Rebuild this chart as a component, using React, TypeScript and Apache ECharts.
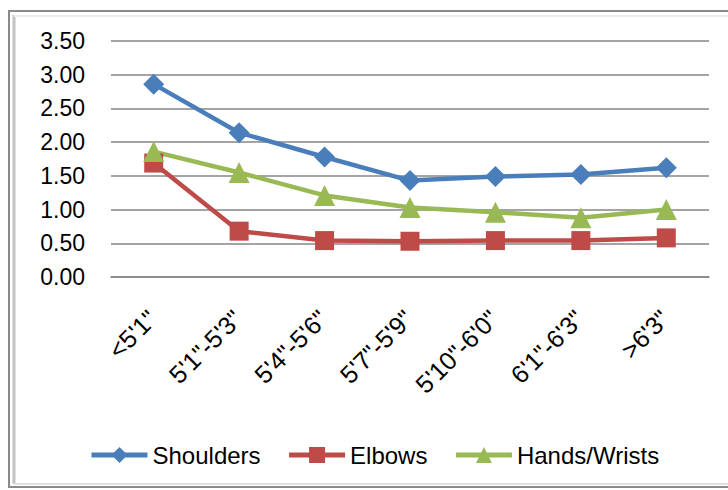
import React, { useEffect, useRef } from "react";
import * as echarts from "echarts";

const categories = ["<5'1\"", "5'1\"-5'3\"", "5'4\"-5'6\"", "5'7\"-5'9\"", "5'10\"-6'0\"", "6'1\"-6'3\"", ">6'3\""];
const shoulders = [2.86, 2.14, 1.78, 1.43, 1.49, 1.52, 1.62];
const elbows = [1.69, 0.68, 0.54, 0.53, 0.54, 0.54, 0.58];
const handsWrists = [1.86, 1.55, 1.21, 1.03, 0.96, 0.88, 1.0];
const seriesNames = ["Shoulders", "Elbows", "Hands/Wrists"];

const FONT = "'Liberation Sans', Arial, sans-serif";

export default function App() {
  const ref = useRef<HTMLDivElement>(null);
  useEffect(() => {
    if (!ref.current) return;
    const chart = echarts.init(ref.current, null, { renderer: "svg" });
    const colors = ["#4A7EBB", "#BE4B48", "#98B954"];
    const mk = (name: string, data: number[], symbol: string, size: number, color: string) => ({
      name,
      type: "line",
      data,
      symbol,
      symbolSize: size,
      showAllSymbol: true,
      lineStyle: { color, width: 4.5 },
      itemStyle: { color },
      emphasis: { disabled: true },
    });
    chart.setOption({
      animation: false,
      backgroundColor: "#ffffff",
      textStyle: { fontFamily: FONT },
      graphic: [
        { type: "rect", shape: { x: 9, y: 11, width: 740, height: 476 }, style: { fill: "none", stroke: "#8a8a8a", lineWidth: 2 }, silent: true },
        { type: "line", shape: { x1: 14, y1: 15, x2: 14, y2: 484 }, style: { stroke: "#c4c4c4", lineWidth: 3 }, silent: true },
        { type: "line", shape: { x1: 14, y1: 16, x2: 728, y2: 16 }, style: { stroke: "#ececec", lineWidth: 2 }, silent: true },
        { type: "line", shape: { x1: 14, y1: 484, x2: 728, y2: 484 }, style: { stroke: "#e0e0e0", lineWidth: 2 }, silent: true },
      ],
      grid: { left: 111, right: 19, top: 41, bottom: 213, containLabel: false },
      legend: {
        left: 84,
        top: 438,
        itemWidth: 56,
        itemHeight: 20,
        itemGap: 26,
        data: seriesNames,
        lineStyle: { width: 5 },
        textStyle: { fontSize: 24, color: "#000", fontFamily: FONT },
      },
      xAxis: {
        type: "category",
        data: categories,
        boundaryGap: true,
        axisLine: { lineStyle: { color: "#868686", width: 1.5 } },
        axisTick: { show: false },
        axisLabel: { rotate: 45, fontSize: 25, color: "#000", margin: 36, interval: 0, fontFamily: FONT, padding: [0, 2, 0, 0] },
      },
      yAxis: {
        type: "value",
        min: 0,
        max: 3.5,
        interval: 0.5,
        axisLine: { show: false },
        axisTick: { show: false },
        splitLine: { lineStyle: { color: "#868686", width: 1.5 } },
        axisLabel: { fontSize: 23, color: "#000", margin: 26, formatter: (v: number) => v.toFixed(2), fontFamily: FONT },
      },
      series: [
        mk(seriesNames[0], shoulders, "diamond", 21, colors[0]),
        mk(seriesNames[1], elbows, "rect", 19, colors[1]),
        mk(seriesNames[2], handsWrists, "triangle", 21, colors[2]),
      ],
    });
    return () => chart.dispose();
  }, []);
  return <div ref={ref} style={{ position: "fixed", left: 0, top: 0, width: 728, height: 490 }} />;
}
